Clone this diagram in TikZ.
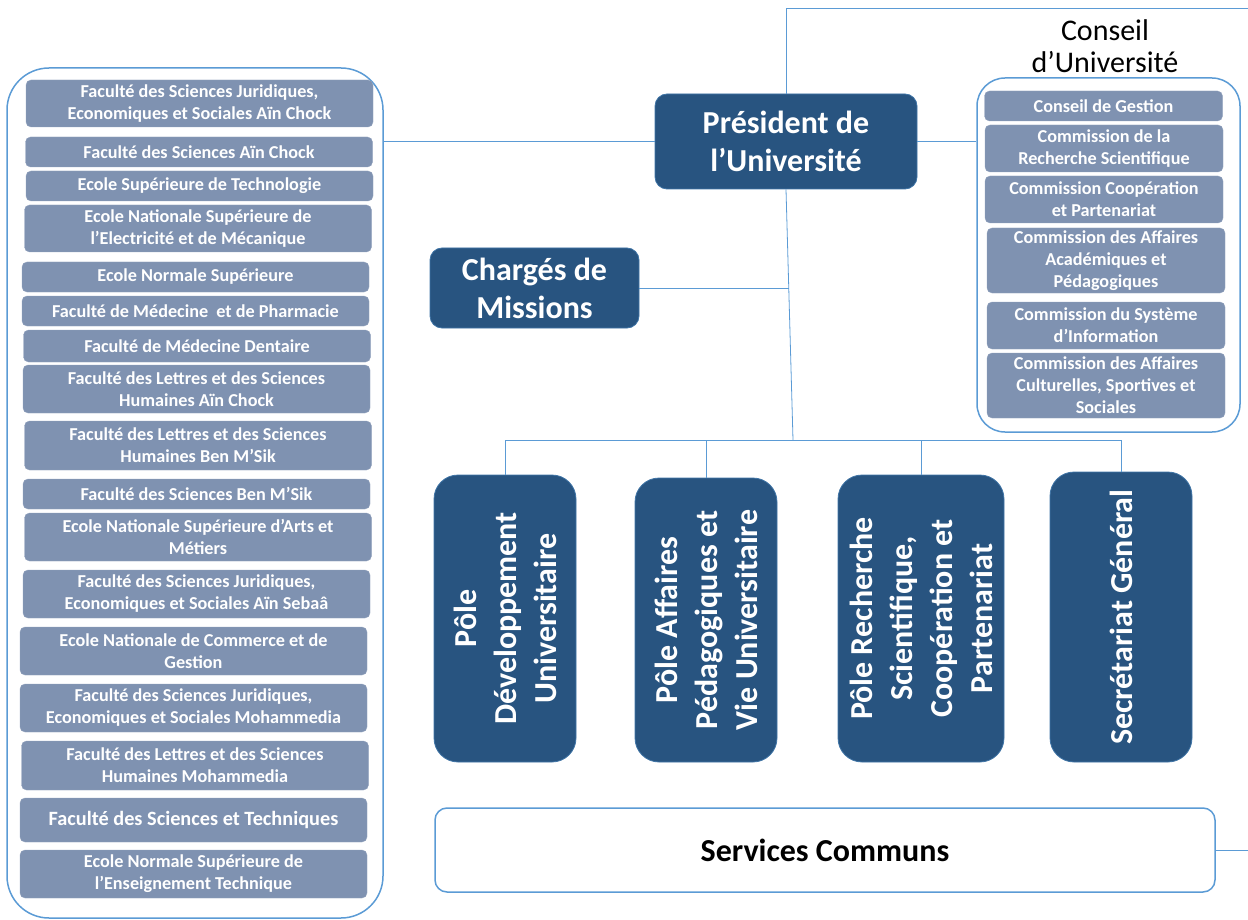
\documentclass[tikz,border=0pt]{standalone}
\usepackage{fontspec}
\setmainfont{Carlito}
\usetikzlibrary{calc}
\definecolor{darkblue}{RGB}{40,84,128}
\definecolor{facfill}{RGB}{127,146,177}
\definecolor{lineblue}{RGB}{91,155,213}

\begin{document}
\begin{tikzpicture}[x=1pt, y=-1pt,
    frame/.style={draw=lineblue, line width=1.5pt, inner sep=0pt},
    unit/.style={fill=facfill, draw=facfill!85!white, rounded corners=5pt, text=white, align=center, inner sep=0pt, minimum height=30pt, font=\fontsize{18.2}{22}\selectfont\bfseries},
    fac/.style={unit, minimum width=347pt},
    com/.style={unit, minimum width=238pt},
    head/.style={fill=darkblue, draw=lineblue!45!darkblue, line width=0.8pt, rounded corners=12pt, text=white, align=center, inner sep=0pt, font=\fontsize{32}{38}\selectfont\bfseries},
    pole/.style={head, rotate=90, rounded corners=24pt, minimum height=142pt, font=\fontsize{32}{40}\selectfont\bfseries},
    link/.style={draw=lineblue, line width=0.8pt}
]
\useasboundingbox (0,0) rectangle (1248,920);

% === Etablissements ===
\node[frame, rounded corners=42pt, minimum width=376pt, minimum height=850pt] (univ) at (195,493) {};

\node[fac, minimum height=47pt] (f1) at (199.5,103.5) {Faculté des Sciences Juridiques,\\Economiques et Sociales Aïn Chock};
\node[fac] (f2) at (199,152) {Faculté des Sciences Aïn Chock};
\node[fac] (f3) at (199.5,186) {Ecole Supérieure de Technologie};
\node[fac, minimum height=47pt] (f4) at (198,228.5) {Ecole Nationale Supérieure de\\l’Electricité et de Mécanique};
\node[fac] (f5) at (195.5,277) {Ecole Normale Supérieure};
\node[fac] (f6) at (195.5,311) {Faculté de Médecine \ et de Pharmacie};
\node[fac, minimum height=32pt] (f7) at (197,346) {Faculté de Médecine Dentaire};
\node[fac, minimum height=48pt] (f8) at (196.5,389) {Faculté des Lettres et des Sciences\\Humaines Aïn Chock};
\node[fac, minimum height=49pt] (f9) at (198,445.5) {Faculté des Lettres et des Sciences\\Humaines Ben M’Sik};
\node[fac] (f10) at (196.5,494) {Faculté des Sciences Ben M’Sik};
\node[fac, minimum height=48pt] (f11) at (198,537) {Ecole Nationale Supérieure d’Arts et\\Métiers};
\node[fac, minimum height=48pt] (f12) at (196.5,594) {Faculté des Sciences Juridiques,\\Economiques et Sociales Aïn Sebaâ};
\node[fac, minimum height=48pt] (f13) at (193.5,651) {Ecole Nationale de Commerce et de\\Gestion};
\node[fac, minimum height=48pt] (f14) at (193.5,708) {Faculté des Sciences Juridiques,\\Economiques et Sociales Mohammedia};
\node[fac, minimum height=49pt] (f15) at (195,765.5) {Faculté des Lettres et des Sciences\\Humaines Mohammedia};
\node[fac, minimum height=44pt, font=\fontsize{20.3}{24}\selectfont\bfseries] (f16) at (193.5,820) {Faculté des Sciences et Techniques};
\node[fac, minimum height=48pt] (f17) at (193.5,874) {Ecole Normale Supérieure de\\l’Enseignement Technique};

% === Conseil d'Universite ===
\node[font=\fontsize{30}{32}\selectfont, align=center] (ctitle) at (1105,46) {Conseil\\d’Université};
\node[frame, rounded corners=28pt, minimum width=263pt, minimum height=354pt] (conseil) at (1108.5,255) {};

\node[com] (c1) at (1103.5,106) {Conseil de Gestion};
\node[com, minimum height=47pt] (c2) at (1104,148.5) {Commission de la\\Recherche Scientifique};
\node[com, minimum height=47pt] (c3) at (1104,199.5) {Commission Coopération\\et Partenariat};
\node[com, minimum height=65pt] (c4) at (1106,260.5) {Commission des Affaires\\Académiques et\\Pédagogiques};
\node[com, minimum height=47pt] (c5) at (1106,325.5) {Commission du Système\\d’Information};
\node[com, minimum height=65pt] (c6) at (1106,385.5) {Commission des Affaires\\Culturelles, Sportives et\\Sociales};

% === Presidence ===
\node[head, minimum width=262pt, minimum height=95pt] (pres) at (786,141.5) {Président de\\l’Université};
\node[head, minimum width=209pt, minimum height=80pt] (charges) at (534.5,288) {Chargés de\\Missions};

% === Poles ===
\node[pole, minimum width=287pt] (p1) at (505,618.5) {Pôle\\Développement\\Universitaire};
\node[pole, minimum width=284pt] (p2) at (706,620) {Pôle Affaires\\Pédagogiques et\\Vie Universitaire};
\node[pole, minimum width=287pt, minimum height=166pt] (p3) at (921,618.5) {Pôle Recherche\\Scientifique,\\Coopération et\\Partenariat};
\node[pole, minimum width=290pt] (p4) at (1121,617) {Secrétariat Général};

% === Services ===
\node[frame, rounded corners=12pt, minimum width=780pt, minimum height=84pt, font=\fontsize{32}{38}\selectfont\bfseries] (serv) at (825,850) {Services Communs};

% === Links ===
\coordinate (bus) at (793,440);
\coordinate (topedge) at (1248,8);
\coordinate (servend) at (1248,850);
\coordinate (joint) at ($(pres.south)!0.394!(bus)$);

\draw[link] (pres.west) -- (pres.west -| univ.east);
\draw[link] (pres.east) -- (pres.east -| conseil.west);
\draw[link] (pres.north) |- (topedge);
\draw[link] (pres.south) -- (bus);
\draw[link] (charges.east) -- (charges.east -| joint);
\draw[link] (p1.east) |- (p4.east |- bus) -- (p4.east);
\draw[link] (p2.east) -- (p2.east |- bus);
\draw[link] (p3.east) -- (p3.east |- bus);
\draw[link] (serv.east) -- (servend);

\end{tikzpicture}
\end{document}
